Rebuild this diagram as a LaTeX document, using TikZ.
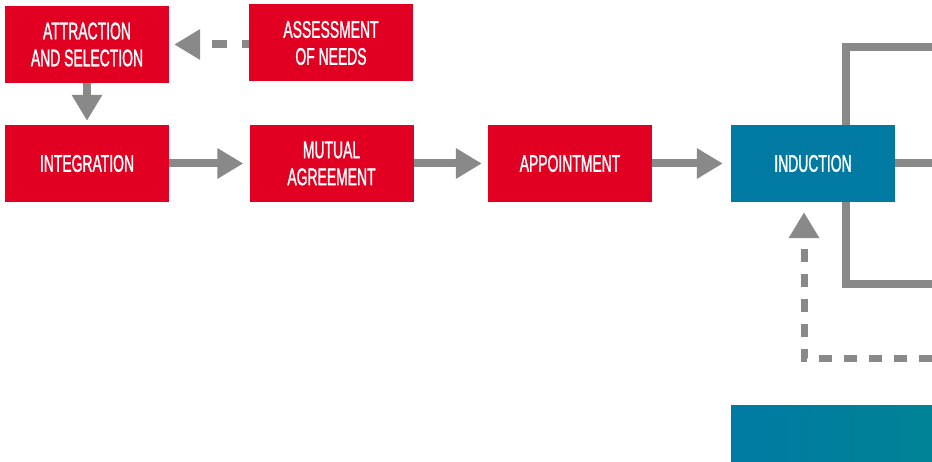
\documentclass[tikz,border=0pt]{standalone}
\usepackage{fontspec}
\setmainfont{Liberation Sans}[FakeStretch=0.58,FakeBold=1.2]
\usetikzlibrary{arrows.meta}
\definecolor{boxred}{RGB}{226,0,34}
\definecolor{boxblue}{RGB}{0,122,163}
\definecolor{boxteal}{RGB}{0,131,150}
\definecolor{linegray}{RGB}{137,137,137}
\begin{document}
\begin{tikzpicture}[x=1pt,y=-1pt,
 box/.style={inner sep=0pt, minimum width=164pt, minimum height=77pt, text=white, font=\fontsize{24}{27}\selectfont, align=center},
 redbox/.style={box, fill=boxred},
 bluebox/.style={box, fill=boxblue},
 conn/.style={draw=linegray, line width=8pt},
 flow/.style={conn, -{Triangle[length=26pt,width=29pt]}},
 dflow/.style={flow, line width=7pt, dash pattern=on 13pt off 12pt},
]
\useasboundingbox (0,0) rectangle (932,462);
\node[redbox] (attr) at (87,44.5) {ATTRACTION\\AND SELECTION};
\node[redbox] (assess) at (331,43) {ASSESSMENT\\OF NEEDS};
\node[redbox] (integ) at (87,163.5) {INTEGRATION};
\node[redbox] (mutual) at (331.5,163.5) {MUTUAL\\AGREEMENT};
\node[redbox] (appt) at (570,163.5) {APPOINTMENT};
\node[bluebox] (induct) at (813,163.5) {INDUCTION};
\node[box, minimum width=201pt, minimum height=57pt, left color=boxblue, right color=boxteal] (bottom) at (831.5,433.5) {};
% solid flow arrows
\draw[flow, shorten >=4pt] (attr) -- (integ);
\draw[flow, shorten >=6pt] (integ) -- (mutual);
\draw[flow, shorten >=6pt] (mutual) -- (appt);
\draw[flow, shorten >=8pt] (appt) -- (induct);
% dashed from assessment
\draw[dflow, line width=8pt, dash pattern=on 15pt off 15pt, dash phase=8pt, shorten >=5pt] (assess.west |- attr.east) -- (attr.east);
% bracket on the right
\coordinate (bx) at (846,0);
\coordinate (bt) at (932,47);
\coordinate (bb) at (932,284);
\draw[conn] (induct.north -| bx) -- (bx |- bt) -- (bt);
\draw[conn] (induct.south -| bx) -- (bx |- bb) -- (bb);
\draw[conn] (induct.east) -- (induct.east -| bt);
% dashed up arrow into induction
\coordinate (dstart) at (932,359);
\coordinate (dcorner) at (804,359);
\draw[dflow, shorten >=10pt] (dstart) -- (dcorner) -- (dcorner |- induct.south);
\end{tikzpicture}
\end{document}
